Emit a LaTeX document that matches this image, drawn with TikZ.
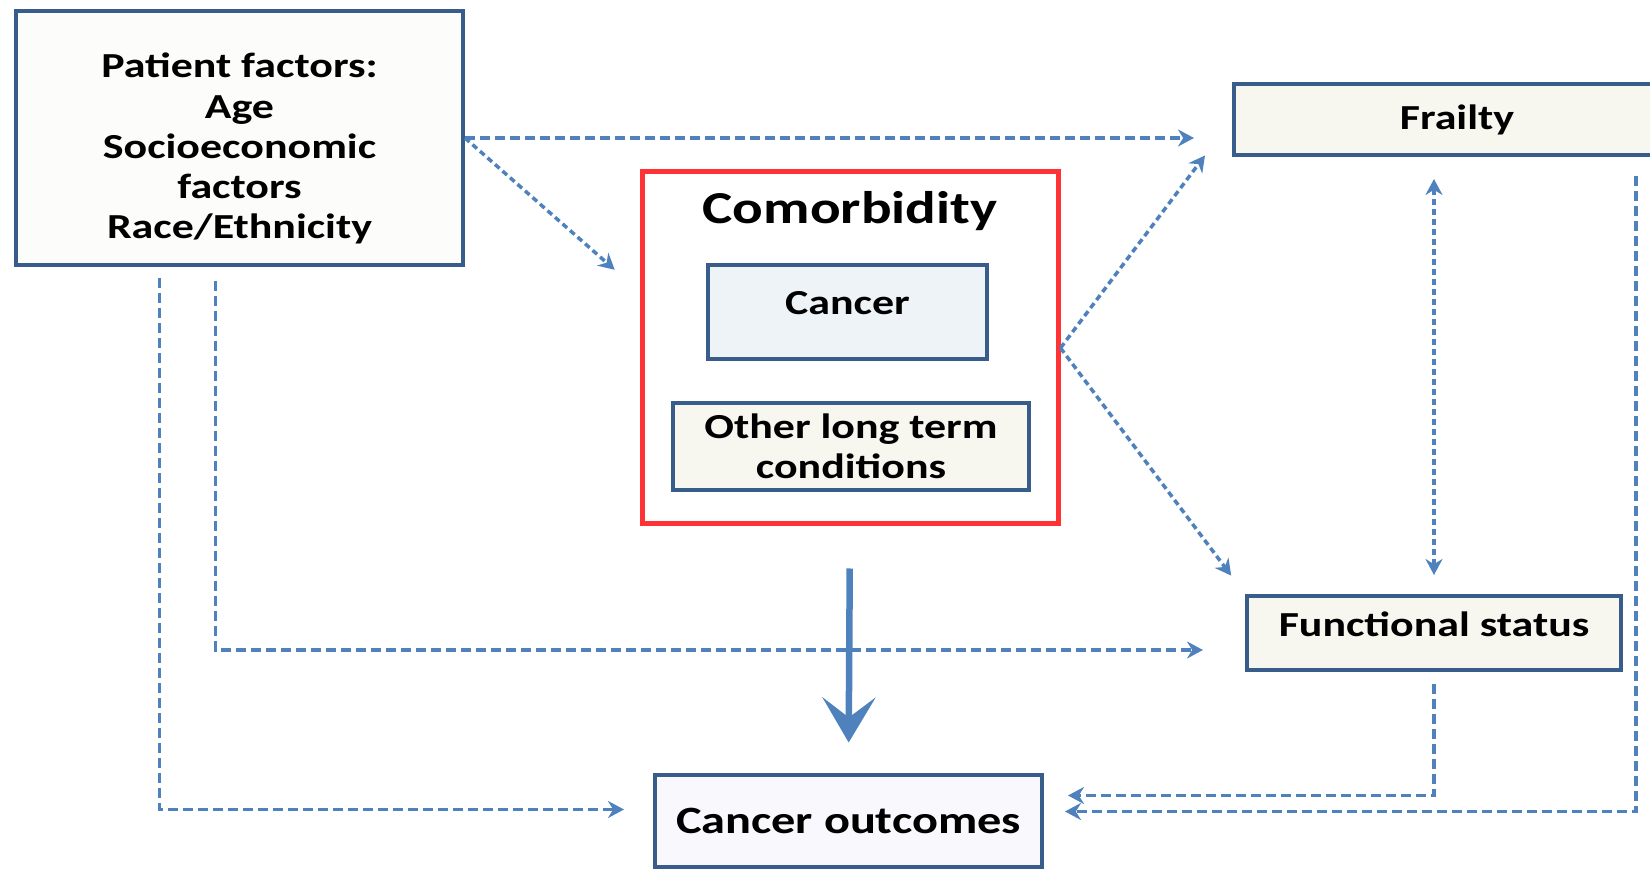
\documentclass[tikz,border=0pt]{standalone}
\usepackage{fontspec}
\setmainfont{Carlito}[FakeStretch=1.25]
\usetikzlibrary{arrows.meta}

\definecolor{boxline}{RGB}{56,93,138}
\definecolor{linkblue}{RGB}{79,129,189}
\definecolor{redline}{RGB}{255,51,51}
\definecolor{paper}{RGB}{252,252,250}
\definecolor{ivory}{RGB}{247,247,240}
\definecolor{paleblue}{RGB}{238,243,248}
\definecolor{lilac}{RGB}{249,249,253}

\begin{document}
\begin{tikzpicture}[>={Stealth[length=1.6mm,width=1.7mm]},font=\bfseries\fontsize{10}{11.4}\selectfont]
  \tikzstyle{factor}=[draw=boxline,line width=0.4mm,align=center,inner sep=0pt]
  \tikzstyle{link}=[linkblue,line width=0.35mm,dash pattern=on 1mm off 0.5mm,->]
  \tikzstyle{dotlink}=[link,dash pattern=on 0.6mm off 0.4mm]
  \useasboundingbox (0,0) rectangle (16.5,-8.69);

  \node[factor,fill=paper,minimum width=4.47cm,minimum height=2.54cm] (patient) at (2.395,-1.38)
    {\rule{0pt}{13pt}Patient factors:\\Age\\Socioeconomic\\factors\\Race/Ethnicity};
  \node[factor,fill=ivory,minimum width=4.46cm,minimum height=0.71cm] (frailty) at (14.57,-1.195) {Frailty};
  \node[draw=redline,line width=0.5mm,fill=white,minimum width=4.16cm,minimum height=3.52cm] (comorb) at (8.50,-3.48) {};
  \node[font=\bfseries\fontsize{13}{15}\selectfont] (comtitle) at (8.50,-2.11) {Comorbidity};
  \node[factor,fill=paleblue,minimum width=2.79cm,minimum height=0.94cm,text depth=5pt] (cancer) at (8.475,-3.12) {Cancer};
  \node[factor,fill=ivory,minimum width=3.56cm,minimum height=0.87cm] (other) at (8.51,-4.465) {Other long term\\conditions};
  \node[factor,fill=ivory,minimum width=3.74cm,minimum height=0.74cm,text depth=5pt] (funct) at (14.34,-6.33) {Functional status};
  \node[factor,fill=lilac,minimum width=3.87cm,minimum height=0.92cm,font=\bfseries\fontsize{11}{13}\selectfont] (outcome) at (8.485,-8.205) {Cancer outcomes};

  \draw[link,shorten >=0.38cm] (patient.east) -- (patient.east -| frailty.west);
  \draw[dotlink,shorten >=0.33cm] (patient.east) -- (comorb.165);
  \draw[dotlink,shorten >=0.45cm] (comorb.east) -- (frailty.west);
  \draw[dotlink,shorten >=0.23cm] (comorb.east) -- (funct.north west);
  \draw[dotlink,<->,shorten <=0.19cm,shorten >=0.22cm] (funct.north) -- (funct.north |- frailty.south);

  % lines running round to the outcomes box
  \draw[link,shorten <=0.19cm,shorten >=0.21cm] ([xshift=-4.6mm]frailty.south east) |- ([yshift=0.09cm]outcome.east);
  \draw[link,shorten <=0.12cm,shorten >=0.24cm] (funct.south) |- ([yshift=0.25cm]outcome.east);
  \draw[link,shorten <=0.14cm,shorten >=0.42cm] ([xshift=-0.24cm]patient.south) |- ([yshift=-0.17cm]funct.west);
  \draw[link,shorten <=0.11cm,shorten >=0.29cm] ([xshift=-0.80cm]patient.south) |- ([yshift=0.11cm]outcome.west);

  \draw[linkblue,line width=0.65mm,-{Stealth[length=4.5mm,width=5.3mm,inset=2mm]},shorten <=0.42cm,shorten >=0.30cm] (comorb.south) -- (outcome.north);
\end{tikzpicture}
\end{document}
